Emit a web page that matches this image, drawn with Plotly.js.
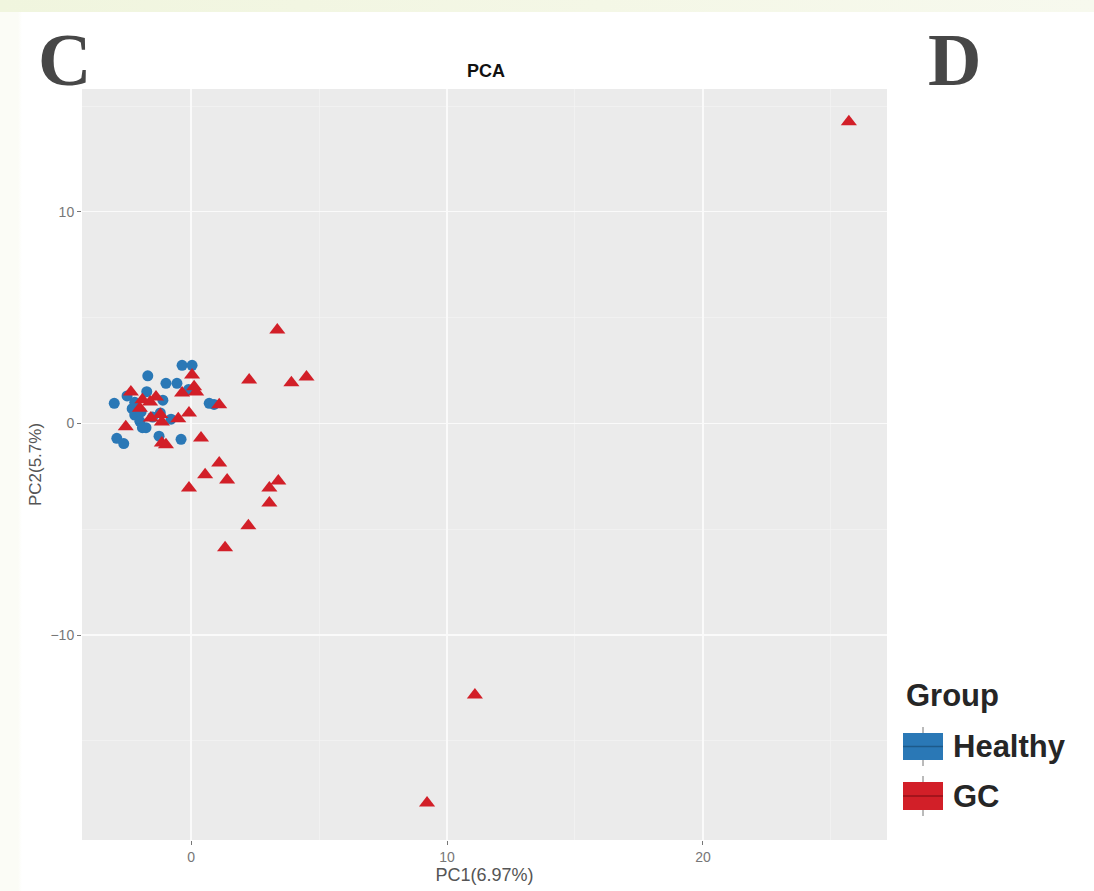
<!DOCTYPE html>
<html>
<head>
<meta charset="utf-8">
<script src="https://cdn.plot.ly/plotly-3.0.1.min.js"></script>
<style>
  html, body { margin: 0; padding: 0; }
  body {
    width: 1094px; height: 891px; overflow: hidden;
    background:
      linear-gradient(to right, rgba(240,245,222,1) 0px, rgba(244,247,230,1) 600px, rgba(247,249,238,1) 1094px) top left / 1094px 12px no-repeat,
      linear-gradient(to right, #FBFCF6 0px, #FBFCF6 18px, #FFFFFF 22px);
  }
  #chart { width: 1094px; height: 891px; }
</style>
</head>
<body>
<div id="chart"></div>
<script>
// ---- data ----
const healthyX = [-0.35, 0.04, -1.69, -0.98, -0.55, -3.0, -1.73, -2.2, -1.95, -0.78, -1.76, -2.9, -2.63, -1.25, -0.39, 0.71, -2.3, -1.5, -2.0, -1.1, -2.5, -1.2, -0.1, 0.9, -1.9, -2.2];
const healthyY = [2.75, 2.75, 2.25, 1.9, 1.9, 0.95, 1.5, 0.4, 0.55, 0.2, -0.2, -0.7, -0.95, -0.6, -0.75, 0.95, 0.7, 0.3, 0.1, 1.1, 1.3, 0.5, 1.6, 0.9, -0.2, 1.0];
const gcX = [25.7, 11.09, 9.22, 3.37, 2.27, 3.92, 4.51, 0.39, 1.10, 0.55, 1.41, -0.08, 3.41, 3.06, 3.06, 2.24, 1.33, -0.98, -2.35, -1.37, 0.04, 0.12, -0.35, 0.20, 1.10, -0.08, -1.57, -1.14, -2.55, -1.14, -1.9, -2.0, -1.6, -1.2, -0.5];
const gcY = [14.26, -12.84, -17.94, 4.42, 2.06, 1.92, 2.2, -0.69, -1.87, -2.43, -2.67, -3.05, -2.72, -3.05, -3.76, -4.84, -5.88, -1.01, 1.49, 1.25, 2.29, 1.73, 1.44, 1.49, 0.88, 0.5, 0.26, 0.07, -0.16, -0.92, 1.12, 0.72, 1.02, 0.42, 0.22];
const groupNames = ["Healthy", "GC"];
const xTickVals = [0, 10, 20];
const yTickVals = [-10, 0, 10];

const colHealthy = "#2A78B6";
const colGC = "#D21F28";

const traces = [
  { type: "scatter", mode: "markers", name: groupNames[0], x: healthyX, y: healthyY,
    marker: { symbol: "circle", size: 11, color: colHealthy }, showlegend: false },
  { type: "scatter", mode: "markers", name: groupNames[1], x: gcX, y: gcY,
    marker: { symbol: "triangle-up", size: 14, color: colGC }, showlegend: false }
];

const px = v => (v - 82) / 805;   // legend helper (paper coords)
const py = v => (840 - v) / 751;

const font = "Liberation Sans, Arial, sans-serif";

const layout = {
  width: 1094, height: 891,
  margin: { l: 82, r: 207, t: 89, b: 51 },
  paper_bgcolor: "rgba(0,0,0,0)",
  plot_bgcolor: "#EBEBEB",
  showlegend: false,
  title: { text: "<b>PCA</b>", font: { family: font, size: 18, color: "#111" },
           x: 486/1094, xanchor: "center", xref: "container", yref: "container", y: 1 - 71/891, yanchor: "middle" },
  xaxis: {
    range: [-4.26, 27.19], tickvals: xTickVals, ticks: "outside", ticklen: 4, tickcolor: "#777",
    tickfont: { family: font, size: 14, color: "#777" },
    showgrid: true, gridcolor: "#FAFAFA", gridwidth: 1.1, zeroline: false, showline: false,
    minor: { dtick: 5, tick0: 0, showgrid: true, gridcolor: "#F3F3F3", gridwidth: 0.7, ticklen: 0 },
    title: { text: "PC1(6.97%)", font: { family: font, size: 18, color: "#555" }, standoff: 4 }
  },
  yaxis: {
    range: [-19.69, 15.81], tickvals: yTickVals, ticks: "outside", ticklen: 4, tickcolor: "#777",
    tickfont: { family: font, size: 14, color: "#777" },
    showgrid: true, gridcolor: "#FAFAFA", gridwidth: 1.1, zeroline: false, showline: false,
    minor: { dtick: 5, tick0: 0, showgrid: true, gridcolor: "#F3F3F3", gridwidth: 0.7, ticklen: 0 },
    title: { text: "PC2(5.7%)", font: { family: font, size: 17, color: "#555" }, standoff: 4 }
  },
  annotations: [
    { text: "<b>C</b>", xref: "paper", yref: "paper", x: px(64), y: py(60), showarrow: false,
      font: { family: "Liberation Serif, Times New Roman, serif", size: 74, color: "#474747" }, xanchor: "center", yanchor: "middle" },
    { text: "<b>D</b>", xref: "paper", yref: "paper", x: px(954), y: py(60), showarrow: false,
      font: { family: "Liberation Serif, Times New Roman, serif", size: 74, color: "#474747" }, xanchor: "center", yanchor: "middle" },
    { text: "<b>Group</b>", xref: "paper", yref: "paper", x: px(904), y: py(695), showarrow: false,
      font: { family: font, size: 31, color: "#262626" }, xanchor: "left", yanchor: "middle" },
    { text: "<b>" + groupNames[0] + "</b>", xref: "paper", yref: "paper", x: px(951), y: py(746), showarrow: false,
      font: { family: font, size: 31, color: "#262626" }, xanchor: "left", yanchor: "middle" },
    { text: "<b>" + groupNames[1] + "</b>", xref: "paper", yref: "paper", x: px(951), y: py(796), showarrow: false,
      font: { family: font, size: 31, color: "#262626" }, xanchor: "left", yanchor: "middle" }
  ],
  shapes: [
    // legend key: Healthy
    { type: "line", xref: "paper", yref: "paper", x0: px(923), x1: px(923), y0: py(727), y1: py(766), line: { color: "#777", width: 1 } },
    { type: "rect", xref: "paper", yref: "paper", x0: px(903), x1: px(943), y0: py(733), y1: py(760), fillcolor: colHealthy, line: { color: colHealthy, width: 0 } },
    { type: "line", xref: "paper", yref: "paper", x0: px(903), x1: px(943), y0: py(746.5), y1: py(746.5), line: { color: "#1D5A8A", width: 1.5 } },
    // legend key: GC
    { type: "line", xref: "paper", yref: "paper", x0: px(923), x1: px(923), y0: py(776), y1: py(816), line: { color: "#777", width: 1 } },
    { type: "rect", xref: "paper", yref: "paper", x0: px(903), x1: px(943), y0: py(782), y1: py(810), fillcolor: colGC, line: { color: colGC, width: 0 } },
    { type: "line", xref: "paper", yref: "paper", x0: px(903), x1: px(943), y0: py(796), y1: py(796), line: { color: "#951219", width: 1.5 } }
  ]
};

Plotly.newPlot("chart", traces, layout, { staticPlot: true, displayModeBar: false });
</script>
</body>
</html>
